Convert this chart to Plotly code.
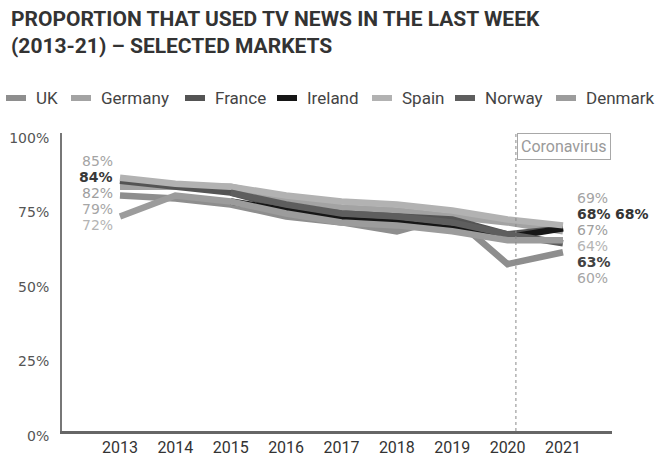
import plotly.graph_objects as go

# Weekly TV news reach, 2013-2021 (%), selected markets
years = [2013, 2014, 2015, 2016, 2017, 2018, 2019, 2020, 2021]

uk      = [79, 78, 76, 72, 70, 67, 72, 56, 60]
germany = [82, 82, 82, 78, 75, 74, 72, 70, 67]
france  = [84, 82, 80, 75, 73, 72, 71, 66, 68]
ireland = [None, None, 77, 74, 71, 70, 68, 65, 68]
spain   = [85, 83, 82, 79, 77, 76, 74, 71, 69]
norway  = [None, None, 80, 76, 73, 72, 70, 66, 63]
denmark = [72, 79, 77, 73, 70, 69, 67, 64, 64]

markets = ["UK", "Germany", "France", "Ireland", "Spain", "Norway", "Denmark"]
values = [uk, germany, france, ireland, spain, norway, denmark]

y_ticks = [0, 25, 50, 75, 100]
covid_start = 2020.15
covid_label = "Coronavirus"

line_colors = {
    "UK": "#8e8e8e", "Germany": "#a3a3a3", "France": "#545454",
    "Ireland": "#161616", "Spain": "#b2b2b2", "Norway": "#5e5e5e",
    "Denmark": "#9c9c9c",
}
label_colors = {
    "UK": "#a6a6a6", "Germany": "#9e9e9e", "France": "#383838",
    "Ireland": "#333333", "Spain": "#a4a4a4", "Norway": "#424242",
    "Denmark": "#b4b4b4",
}
bold_labels = {"France", "Ireland", "Norway"}

# plot area in pixels
W, H = 666, 457
L, R, T, B = 62, 612, 133, 431


def px_x(px):
    return (px - L) / (R - L)


def px_y(py):
    return (B - py) / (B - T)


fig = go.Figure()
for name, vals in zip(markets, values):
    fig.add_trace(go.Scatter(
        x=years, y=vals, mode="lines", name=name,
        line=dict(color=line_colors[name], width=6.5),
        connectgaps=False, showlegend=False, hoverinfo="skip",
    ))

annotations = []
shapes = []


def value_stack(col, x_year, side):
    """Stacked end labels, one row per distinct value, centred on the mean."""
    pts = [(v[col], m) for m, v in zip(markets, values) if v[col] is not None]
    mean = sum(p[0] for p in pts) / len(pts)
    rows = []
    for val in sorted({p[0] for p in pts}, reverse=True):
        names = [m for v, m in pts if v == val]
        rows.append((val, names))
    n = len(rows)
    for i, (val, names) in enumerate(rows):
        parts = []
        for m in names:
            t = f"{val}%"
            if m in bold_labels:
                t = f"<b>{t}</b>"
            parts.append(f"<span style='color:{label_colors[m]}'>{t}</span>")
        annotations.append(dict(
            x=x_year, y=mean, xref="x", yref="y",
            text=" ".join(parts), showarrow=False,
            xanchor="right" if side == "left" else "left",
            yanchor="middle", borderpad=0,
            xshift=-6 if side == "left" else 13,
            yshift=((n - 1) / 2 - i) * 16 - 2,
            font=dict(family="DejaVu Sans", size=14),
        ))


value_stack(0, years[0], "left")
value_stack(len(years) - 1, years[-1], "right")

# legend drawn as short strokes with labels
legend_x = [6, 71, 185, 277, 372, 455, 556]
for name, x0 in zip(markets, legend_x):
    shapes.append(dict(
        type="line", xref="paper", yref="paper",
        x0=px_x(x0), x1=px_x(x0 + 20), y0=px_y(98), y1=px_y(98),
        line=dict(color=line_colors[name], width=6),
    ))
    annotations.append(dict(
        x=px_x(x0 + 28), y=px_y(98), xref="paper", yref="paper",
        text=name, showarrow=False, xanchor="left", yanchor="middle",
        font=dict(family="Roboto", size=17, color="#444444"),
    ))

# title
annotations.append(dict(
    x=px_x(9), y=px_y(5), xref="paper", yref="paper",
    text="PROPORTION THAT USED TV NEWS IN THE LAST WEEK<br>(2013-21) – SELECTED MARKETS",
    showarrow=False, xanchor="left", yanchor="top", align="left",
    font=dict(family="Roboto", size=21, color="#333333", weight="bold"),
))

# coronavirus marker
shapes.append(dict(
    type="line", xref="x", yref="paper", x0=covid_start, x1=covid_start,
    y0=0, y1=1, line=dict(color="#8a8a8a", width=1, dash="dot"),
))
annotations.append(dict(
    x=covid_start, y=1, xref="x", yref="paper", text=covid_label,
    showarrow=False, xanchor="left", yanchor="top",
    bordercolor="#a8a8a8", borderwidth=1, borderpad=3, xshift=1,
    font=dict(family="Roboto", size=16, color="#9a9a9a"),
))

fig.update_layout(
    width=W, height=H,
    margin=dict(l=L, r=W - R, t=T, b=H - B, autoexpand=False),
    plot_bgcolor="white", paper_bgcolor="white",
    showlegend=False,
    annotations=annotations, shapes=shapes,
    xaxis=dict(
        range=[2011.953, 2021.885], tickvals=years,
        ticktext=[str(y) for y in years], showgrid=False, zeroline=False,
        showline=True, linecolor="#666666", linewidth=2.5, ticks="",
        ticklabelstandoff=0, automargin=False,
        tickfont=dict(family="Roboto", size=16, color="#333333"),
    ),
    yaxis=dict(
        range=[0, 100], tickvals=y_ticks,
        ticktext=[f"{v}%" for v in y_ticks], showgrid=False, zeroline=False,
        showline=True, linecolor="#777777", linewidth=2, ticks="",
        ticklabelshift=5, ticklabelstandoff=8, automargin=False,
        tickfont=dict(family="DejaVu Sans", size=14, color="#555555"),
    ),
)

fig.write_html("out.html")
